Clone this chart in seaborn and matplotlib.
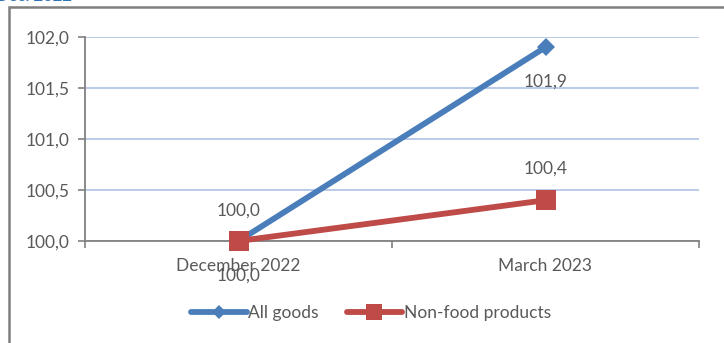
import matplotlib
matplotlib.use("Agg")
import matplotlib.pyplot as plt
from matplotlib.lines import Line2D
from matplotlib.patches import Rectangle
from matplotlib.ticker import FuncFormatter
import pandas as pd
import seaborn as sns

periods = ["December 2022", "March 2023"]
series_names = ["All goods", "Non-food products"]
all_goods = [100.0, 101.9]
non_food = [100.0, 100.4]
y_ticks = [100.0, 100.5, 101.0, 101.5, 102.0]

colors = {"All goods": "#4A7EBB", "Non-food products": "#BE4B48"}
markers = {"All goods": "D", "Non-food products": "s"}
marker_sizes = {"All goods": 9, "Non-food products": 14.5}
text_color = "#595959"
fs = 12.5

df = pd.DataFrame({
    "period": periods * 2,
    "series": [series_names[0]] * 2 + [series_names[1]] * 2,
    "value": all_goods + non_food,
})

sns.set_style("white")
plt.rcParams["font.family"] = ["Lato", "DejaVu Sans"]

fig = plt.figure(figsize=(7.24, 3.43), dpi=100)
ax = fig.add_axes([85 / 724, 1 - 241 / 343, 614 / 724, 204 / 343])

sns.lineplot(data=df, x="period", y="value", hue="series", style="series",
             markers=markers, dashes=False, palette=colors, linewidth=4.2,
             legend=False, ax=ax, zorder=3)
for line, name in zip(ax.lines, series_names):
    line.set_markersize(marker_sizes[name])
    line.set_markeredgewidth(0)
    line.set_solid_capstyle("round")
    line.set_clip_on(False)

ax.set_xlim(-0.5, 1.5)
ax.set_ylim(100.0, 102.0)
ax.set_yticks(y_ticks)
ax.yaxis.set_major_formatter(FuncFormatter(lambda v, _: f"{v:.1f}".replace(".", ",")))
ax.grid(axis="y", color="#B4C7E7", linewidth=1.3)
ax.set_axisbelow(True)

# category boundaries get the tick marks, category centres get the labels
ax.set_xticks([-0.5, 0.5, 1.5])
ax.set_xticklabels([])
ax.set_xticks([0, 1], minor=True)
ax.set_xticklabels(periods, minor=True)
ax.tick_params(axis="x", which="major", direction="out", length=5, width=1.2, color="#808080", bottom=True)
ax.tick_params(axis="x", which="minor", length=0, pad=12, labelsize=fs, labelcolor=text_color)
ax.tick_params(axis="y", direction="out", length=5, width=1.2, color="#808080", left=True,
               pad=6, labelsize=fs, labelcolor=text_color)
ax.set_xlabel("")
ax.set_ylabel("")
for side in ["top", "right"]:
    ax.spines[side].set_visible(False)
for side in ["left", "bottom"]:
    ax.spines[side].set_color("#808080")
    ax.spines[side].set_linewidth(1.3)


def fmt(v):
    return f"{v:.1f}".replace(".", ",")


# value labels
ax.annotate(fmt(all_goods[0]), (0, all_goods[0]), xytext=(0, 22),
            textcoords="offset points", ha="center", va="center", fontsize=fs, color=text_color)
ax.annotate(fmt(non_food[0]), (0, non_food[0]), xytext=(0, -25),
            textcoords="offset points", ha="center", va="center", fontsize=fs, color=text_color)
ax.annotate(fmt(all_goods[1]), (1, all_goods[1]), xytext=(0, -25),
            textcoords="offset points", ha="center", va="center", fontsize=fs, color=text_color)
ax.annotate(fmt(non_food[1]), (1, non_food[1]), xytext=(0, 23),
            textcoords="offset points", ha="center", va="center", fontsize=fs, color=text_color)

handles = [Line2D([], [], color=colors[n], marker=markers[n], linewidth=4.2,
                  markersize=marker_sizes[n] * 0.75, markeredgewidth=0, solid_capstyle="round")
           for n in series_names]
fig.legend(handles, series_names, loc="center", bbox_to_anchor=(371 / 724, 1 - 313 / 343),
           ncol=2, frameon=False, fontsize=fs, labelcolor=text_color,
           handlelength=3.2, handletextpad=0.1, columnspacing=1.6)

# chart frame
fig.patches.append(Rectangle((9 / 724, -0.1), 1.2, 1.1 - 7 / 343, transform=fig.transFigure,
                             fill=False, edgecolor="#7F7F7F", linewidth=1.8))
fig.text(-0.005, 1.012, "Dec. 2022", color="#2E75B6", fontsize=12, fontweight="bold",
         ha="left", va="center")

fig.savefig("out.png", dpi=100)
